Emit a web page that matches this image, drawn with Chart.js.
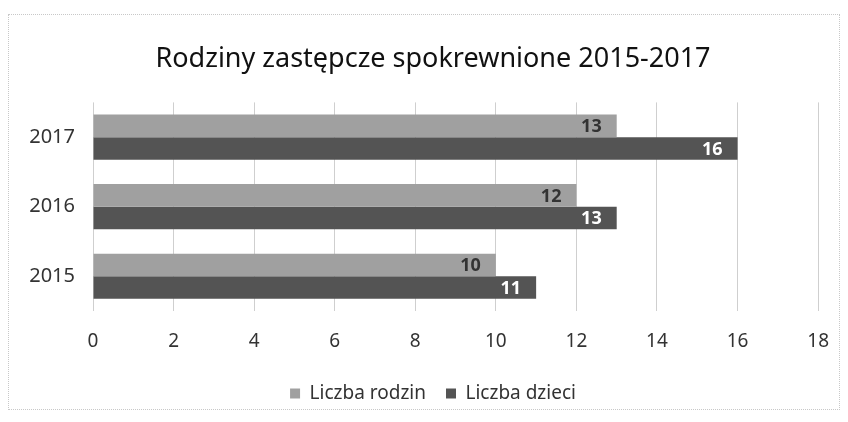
<!DOCTYPE html>
<html>
<head>
<meta charset="utf-8">
<script src="https://cdn.jsdelivr.net/npm/chart.js@4"></script>
<style>
  html, body { margin: 0; padding: 0; background: #fff; }
  .frame { position: absolute; left: 8px; top: 14px; width: 832px; height: 396px; border: 1px dotted #c8c8c8; box-sizing: border-box; }
  .wrap { position: absolute; left: 0; top: 0; width: 848px; height: 422px; }
</style>
</head>
<body>
<div class="frame"></div>
<div class="wrap"><canvas id="chart" width="848" height="422"></canvas></div>
<script>
// data
const years = ['2017', '2016', '2015'];
const liczbaRodzin = [13, 12, 10];
const liczbaDzieci = [16, 13, 11];
const xTicks = [0, 2, 4, 6, 8, 10, 12, 14, 16, 18];

const FONT = "'Noto Sans', 'Open Sans', sans-serif";

// draws the value at the inner end of each bar
const valueLabels = {
  id: 'valueLabels',
  afterDatasetsDraw(chart) {
    const ctx = chart.ctx;
    ctx.save();
    ctx.textAlign = 'right';
    ctx.textBaseline = 'middle';
    chart.data.datasets.forEach((ds, i) => {
      const meta = chart.getDatasetMeta(i);
      meta.data.forEach((bar, j) => {
        ctx.font = 'bold 18px ' + FONT;
        ctx.fillStyle = ds.labelColor;
        ctx.fillText(ds.data[j], bar.x - 15, bar.y + 1);
      });
    });
    ctx.restore();
  }
};

new Chart(document.getElementById('chart'), {
  type: 'bar',
  data: {
    labels: years,
    datasets: [
      {
        label: 'Liczba rodzin',
        data: liczbaRodzin,
        backgroundColor: '#a0a0a0',
        labelColor: '#333333',
        categoryPercentage: 0.65,
        barPercentage: 1.0
      },
      {
        label: 'Liczba dzieci',
        data: liczbaDzieci,
        backgroundColor: '#545454',
        labelColor: '#ffffff',
        categoryPercentage: 0.65,
        barPercentage: 1.0
      }
    ]
  },
  options: {
    indexAxis: 'y',
    responsive: false,
    animation: false,
    layout: { padding: { left: 44, right: 26, top: 0, bottom: 9 } },
    scales: {
      x: {
        min: 0,
        max: 18,
        afterBuildTicks: (axis) => { axis.ticks = xTicks.map(v => ({ value: v })); },
        afterFit: (axis) => { axis.height = 53; },
        grid: { color: '#cfcfcf', borderDash: [2, 2], drawTicks: false },
        border: { display: false },
        ticks: { color: '#333', font: { family: FONT, size: 19 }, padding: 19 }
      },
      y: {
        afterFit: (axis) => {
          axis.width = 49;
          // the year labels stick out left of the narrow axis box, so don't clip them
          axis._computeLabelArea = () => undefined;
        },
        grid: { display: false, drawTicks: false },
        border: { display: false },
        ticks: { color: '#333', font: { family: FONT, size: 20 }, padding: 18 }
      }
    },
    plugins: {
      title: {
        display: true,
        text: 'Rodziny zastępcze spokrewnione 2015-2017',
        color: '#111',
        font: { family: FONT, size: 27, weight: 'normal' },
        padding: { top: 43, bottom: 27 }
      },
      legend: {
        position: 'bottom',
        labels: {
          color: '#333',
          font: { family: FONT, size: 19 },
          boxWidth: 10,
          boxHeight: 10,
          padding: 20
        }
      },
      tooltip: { enabled: false }
    }
  },
  plugins: [valueLabels]
});
</script>
</body>
</html>
